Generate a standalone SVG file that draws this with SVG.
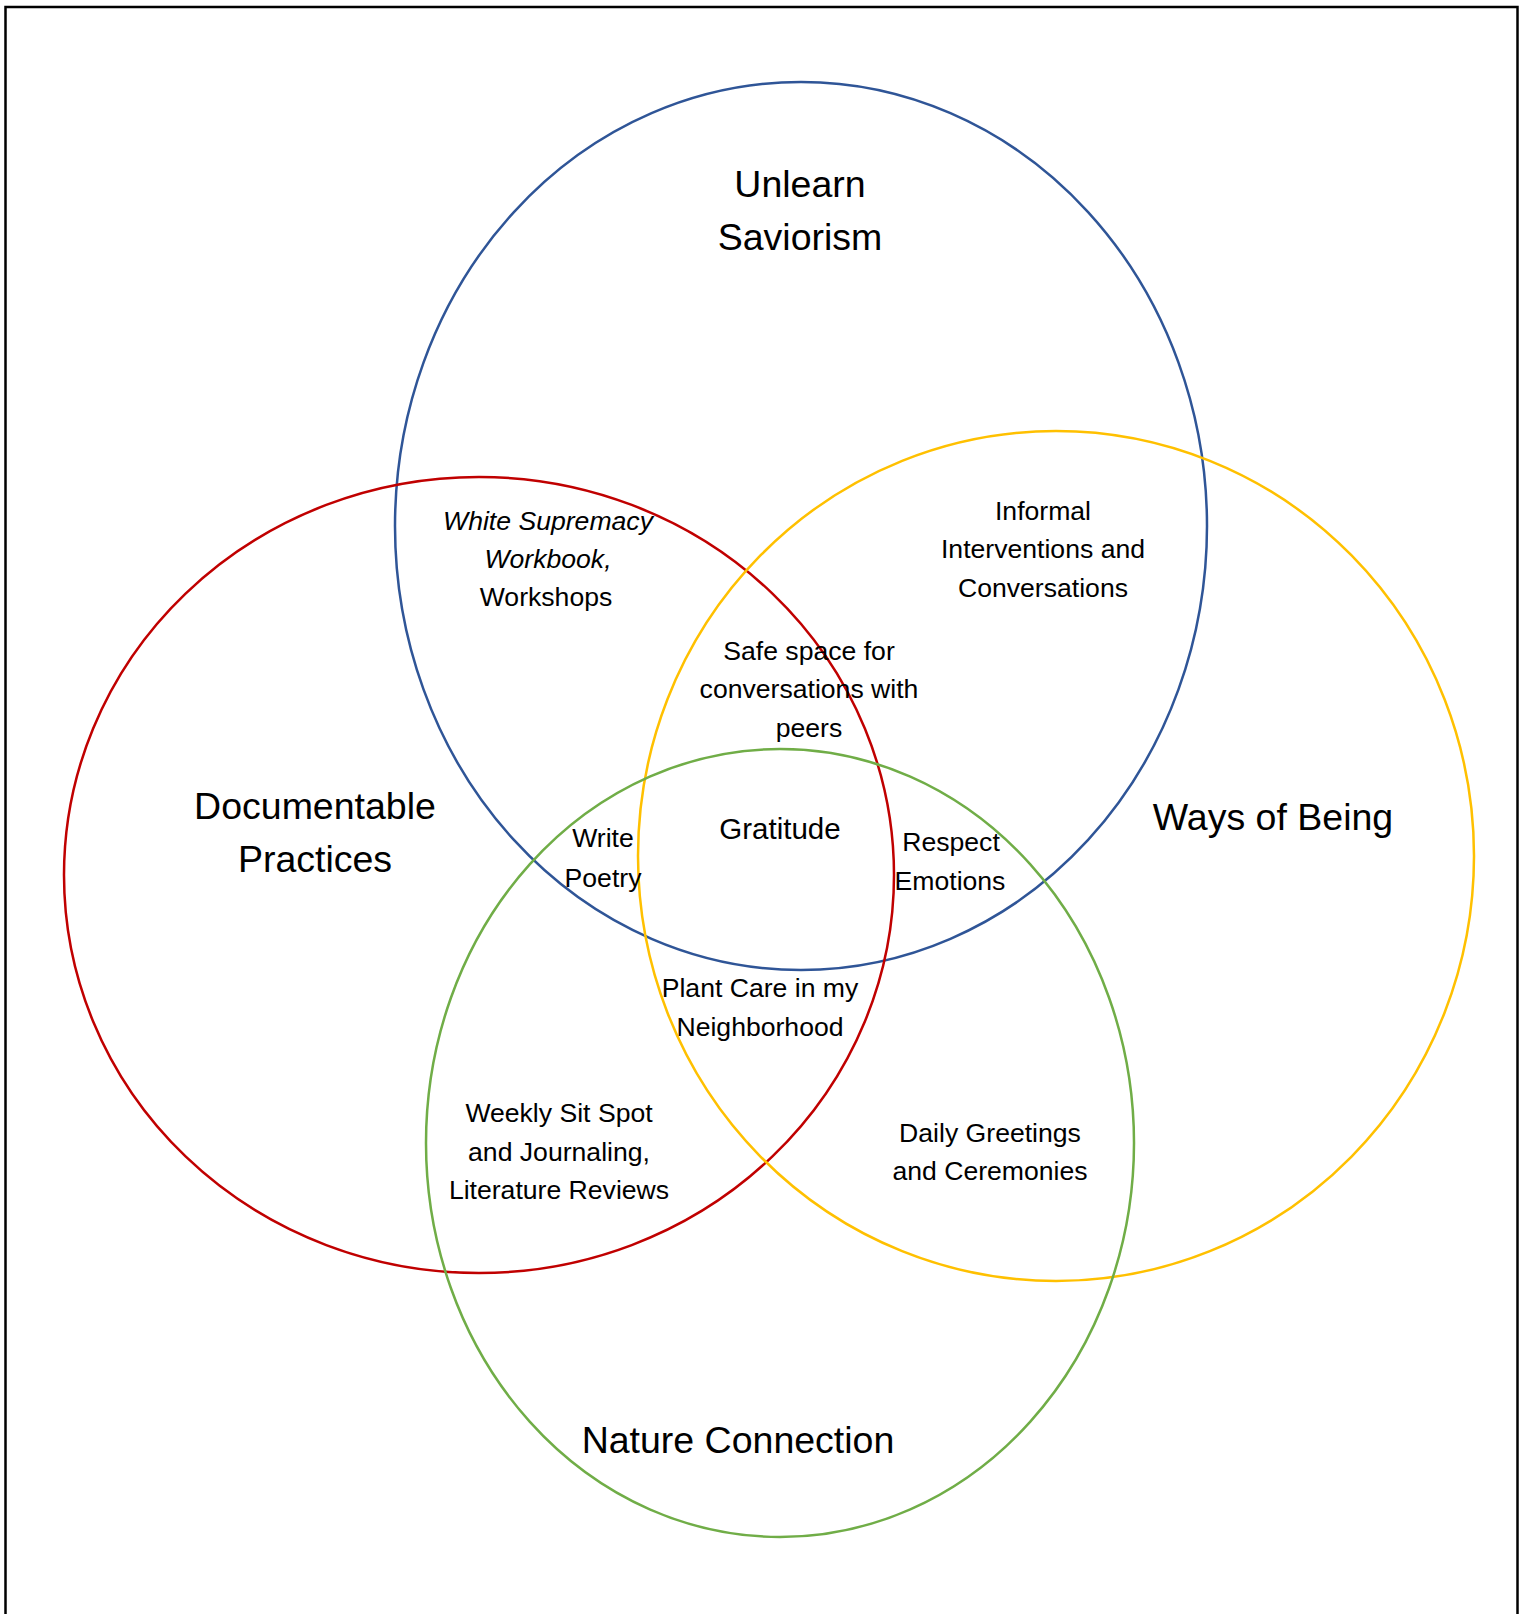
<svg xmlns="http://www.w3.org/2000/svg" width="1527" height="1614" viewBox="0 0 1527 1614">
<style>
.c{fill:none;stroke-width:2.5}
.t{font-family:"Liberation Sans",Arial,sans-serif;fill:#000;text-anchor:middle}
.big{font-size:37.5px}
.sm{font-size:26.6px}
</style>
<rect x="0" y="0" width="1527" height="1614" fill="#fff"/>
<rect x="5.5" y="7" width="1512" height="1640" fill="none" stroke="#000" stroke-width="2.5"/>
<g id="circles">
<ellipse id="blue" class="c" cx="801" cy="526" rx="406" ry="444" stroke="#2F5597"/>
<ellipse id="red" class="c" cx="479" cy="875" rx="415" ry="398" stroke="#C00000"/>
<ellipse id="yellow" class="c" cx="1056" cy="856" rx="418" ry="425" stroke="#FFC000"/>
<ellipse id="green" class="c" cx="780" cy="1143" rx="354" ry="394" stroke="#70AD47"/>
</g>
<g id="labels">
<g id="unlearn"><text class="t big" x="800" y="197">Unlearn</text><text class="t big" x="800" y="250">Saviorism</text></g>
<g id="documentable"><text class="t big" x="315" y="819">Documentable</text><text class="t big" x="315" y="872">Practices</text></g>
<g id="ways"><text class="t big" x="1273" y="830">Ways of Being</text></g>
<g id="nature"><text class="t big" x="738" y="1453">Nature Connection</text></g>
<g id="wsw"><text class="t sm" x="548" y="530" font-style="italic">White Supremacy</text><text class="t sm" x="548" y="568" font-style="italic">Workbook,</text><text class="t sm" x="546" y="606">Workshops</text></g>
<g id="informal"><text class="t sm" x="1043" y="520">Informal</text><text class="t sm" x="1043" y="558">Interventions and</text><text class="t sm" x="1043" y="597">Conversations</text></g>
<g id="safe"><text class="t sm" x="809" y="660">Safe space for</text><text class="t sm" x="809" y="698">conversations with</text><text class="t sm" x="809" y="737">peers</text></g>
<g id="gratitude"><text class="t" x="780" y="839" font-size="29.5px">Gratitude</text></g>
<g id="write"><text class="t sm" x="603" y="847">Write</text><text class="t sm" x="603" y="887">Poetry</text></g>
<g id="respect"><text class="t sm" x="951" y="851">Respect</text><text class="t sm" x="950" y="890">Emotions</text></g>
<g id="plant"><text class="t sm" x="760" y="997">Plant Care in my</text><text class="t sm" x="760" y="1036">Neighborhood</text></g>
<g id="weekly"><text class="t sm" x="559" y="1122">Weekly Sit Spot</text><text class="t sm" x="559" y="1161">and Journaling,</text><text class="t sm" x="559" y="1199">Literature Reviews</text></g>
<g id="daily"><text class="t sm" x="990" y="1142">Daily Greetings</text><text class="t sm" x="990" y="1180">and Ceremonies</text></g>
</g>
</svg>
